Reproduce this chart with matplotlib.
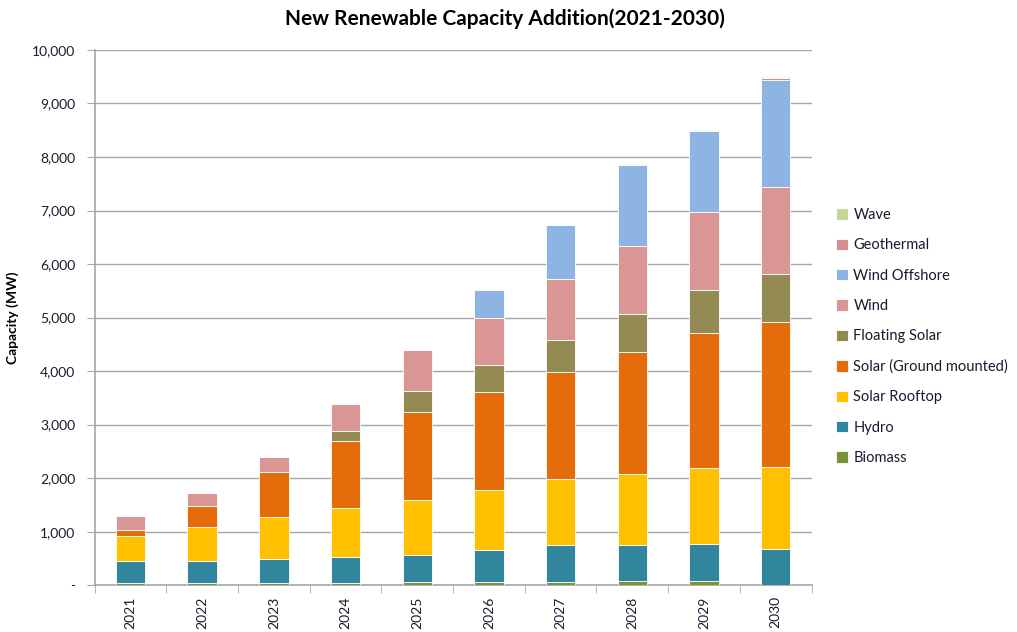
import matplotlib.pyplot as plt
import numpy as np
from matplotlib.ticker import FuncFormatter

plt.rcParams['font.family'] = ['Lato', 'DejaVu Sans']

years = ["2021", "2022", "2023", "2024", "2025", "2026", "2027", "2028", "2029", "2030"]

biomass = [35, 37, 37, 37, 56, 56, 62, 75, 75, 0]
hydro = [415, 424, 449, 493, 511, 604, 698, 685, 698, 679]
solar_rooftop = [465, 623, 791, 915, 1016, 1122, 1221, 1321, 1408, 1527]
solar_ground = [115, 393, 835, 1241, 1644, 1832, 1994, 2274, 2535, 2704]
floating_solar = [0, 0, 0, 193, 399, 498, 598, 704, 792, 903]
wind = [260, 248, 275, 510, 767, 885, 1147, 1284, 1464, 1632]
wind_offshore = [0, 0, 0, 0, 0, 517, 1009, 1507, 1520, 1994]
geothermal = [0, 0, 0, 0, 0, 0, 0, 0, 0, 35]
wave = [0, 0, 0, 0, 0, 0, 8, 10, 12, 20]

series = [
    ("Biomass", biomass, "#77933C"),
    ("Hydro", hydro, "#31859C"),
    ("Solar Rooftop", solar_rooftop, "#FFC000"),
    ("Solar (Ground mounted)", solar_ground, "#E46C0A"),
    ("Floating Solar", floating_solar, "#948A54"),
    ("Wind", wind, "#D99694"),
    ("Wind Offshore", wind_offshore, "#8EB4E3"),
    ("Geothermal", geothermal, "#D48E8C"),
    ("Wave", wave, "#C3D69B"),
]

fig = plt.figure(figsize=(10.17, 6.32), dpi=100)
ax = fig.add_axes([0.093, 0.074, 0.705, 0.847])

x = np.arange(len(years))
bottom = np.zeros(len(years))
handles = []
for name, vals, col in series:
    b = ax.bar(x, vals, 0.41, bottom=bottom, color=col, edgecolor="white",
               linewidth=0.6, label=name, zorder=3)
    handles.append(b)
    bottom += np.array(vals)

ax.set_xlim(-0.5, len(years) - 0.5)
ax.set_ylim(0, 10000)
ax.set_yticks(range(0, 10001, 1000))
ax.yaxis.set_major_formatter(FuncFormatter(lambda v, p: "-" if v == 0 else f"{v:,.0f}"))
ax.grid(axis="y", color="#a6a6a6", linewidth=1, zorder=0)

ax.set_xticks(x)
ax.set_xticklabels(years, rotation=90, fontsize=10, color="#1a1a2e")
ax.set_xticks(np.arange(-0.5, len(years), 1), minor=True)
ax.tick_params(axis="x", which="major", length=0, pad=8)
ax.tick_params(axis="x", which="minor", length=6, color="#a6a6a6", direction="out")
ax.tick_params(axis="y", length=6, color="#a6a6a6", labelsize=10, labelcolor="#1a1a2e", pad=8)

for side in ["top", "right"]:
    ax.spines[side].set_visible(False)
for side in ["left", "bottom"]:
    ax.spines[side].set_color("#a6a6a6")
    ax.spines[side].set_linewidth(1.2)

ax.set_ylabel("Capacity (MW)", fontsize=10, fontweight="bold", labelpad=9)
ax.set_title("New Renewable Capacity Addition(2021-2030)", fontsize=15,
             fontweight="bold", pad=18, x=0.573)

fig.legend(handles[::-1], [s[0] for s in series][::-1], loc="center left",
           bbox_to_anchor=(0.822, 0.4675), bbox_transform=fig.transFigure,
           frameon=False, fontsize=10.5, borderpad=0, borderaxespad=0,
           handlelength=0.8, handleheight=0.8, handletextpad=0.4,
           labelspacing=1.12, labelcolor="#1a1a2e")

fig.savefig("out.png", dpi=100, facecolor="white")
